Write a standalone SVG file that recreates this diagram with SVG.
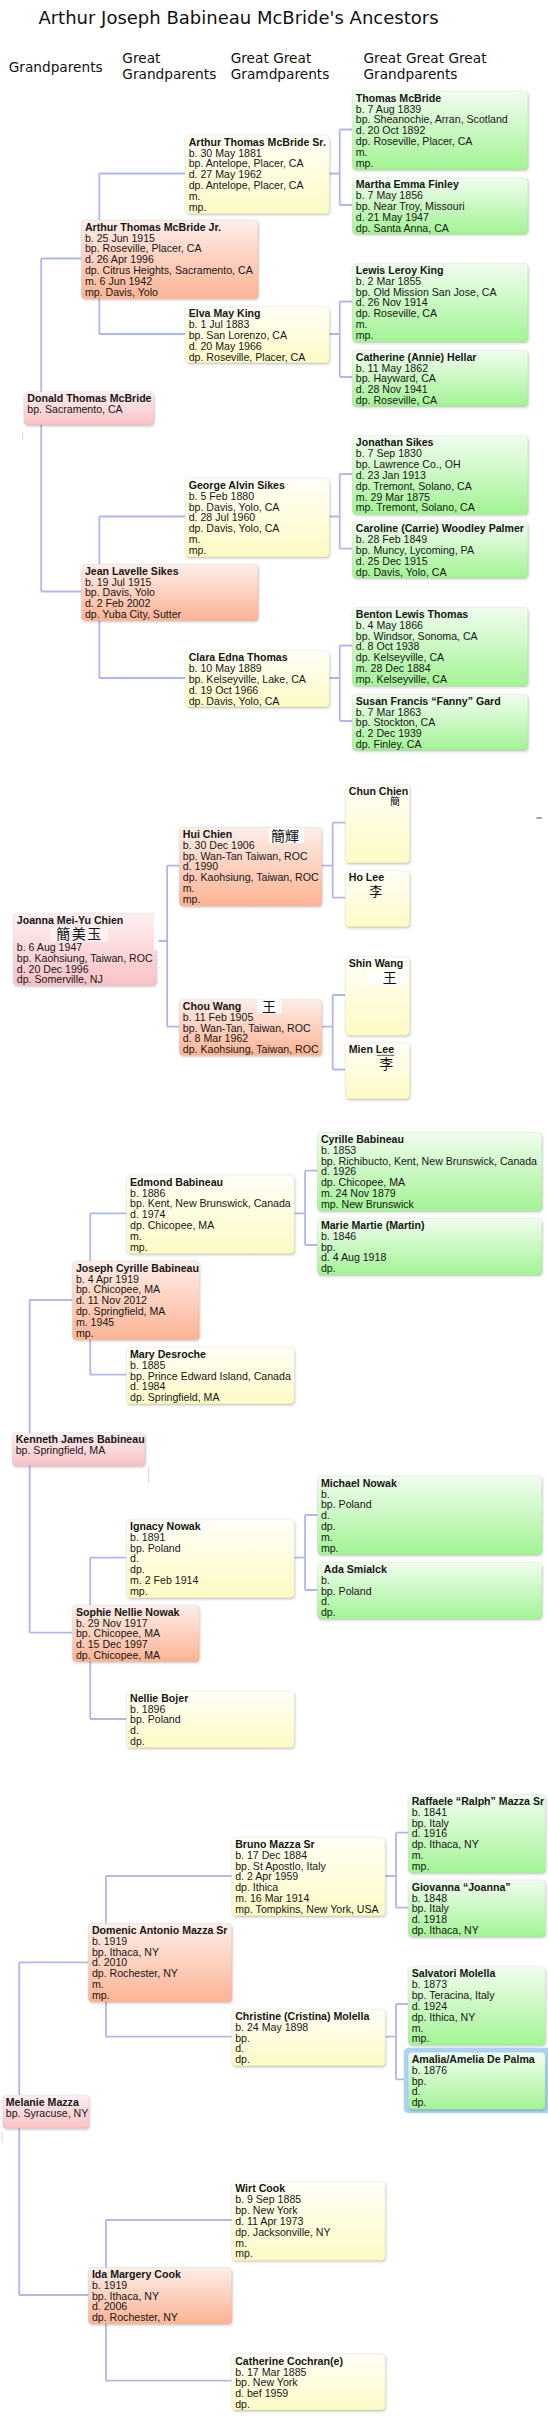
<svg xmlns="http://www.w3.org/2000/svg" width="548" height="2419" viewBox="0 0 548 2419">
<style>
.t{font-family:"Liberation Sans",Arial,sans-serif;font-size:10.6px;fill:#161616}
.n{font-weight:bold}
.h{font-family:"DejaVu Sans",Verdana,sans-serif;font-size:13.7px;fill:#111}
.title{font-family:"DejaVu Sans",Verdana,sans-serif;font-size:18px;fill:#111}
.c{stroke:#b1b6ee;stroke-width:1.8;fill:none}
.cjk{font-family:"Noto Sans CJK TC","Noto Sans CJK SC",sans-serif;fill:#111}
.b{stroke:#000;stroke-opacity:0.07;stroke-width:0.8;filter:url(#sh)}
.pk{fill:url(#gPink)}
.or{fill:url(#gOrange)}
.ye{fill:url(#gYellow)}
.gr{fill:url(#gGreen)}
.wp{fill:#fff;fill-opacity:0.9}
.art{stroke:#d8d8d8;stroke-width:1}
</style>
<defs>
<linearGradient id="gPink" x1="0" y1="0" x2="0" y2="1"><stop offset="0" stop-color="#feeff0"/><stop offset="1" stop-color="#f8c2c6"/></linearGradient>
<linearGradient id="gOrange" x1="0" y1="0" x2="0" y2="1"><stop offset="0" stop-color="#fdeee9"/><stop offset="1" stop-color="#fcb394"/></linearGradient>
<linearGradient id="gYellow" x1="0" y1="0" x2="0" y2="1"><stop offset="0" stop-color="#fffef6"/><stop offset="1" stop-color="#fdfbc5"/></linearGradient>
<linearGradient id="gGreen" x1="0" y1="0" x2="0" y2="1"><stop offset="0" stop-color="#f1fdef"/><stop offset="1" stop-color="#a3f495"/></linearGradient>
<filter id="sh" x="-5%" y="-5%" width="112%" height="125%"><feDropShadow dx="0.8" dy="1.5" stdDeviation="1.1" flood-color="#000" flood-opacity="0.22"/></filter>
</defs>
<rect x="0" y="0" width="548" height="2419" fill="#fff"/>

<g id="headers">
<text class="title" x="38.4" y="24">Arthur Joseph Babineau McBride's Ancestors</text>
<text class="h" x="8.7" y="71.7">Grandparents</text>
<text class="h" x="122.3" y="62.7">Great</text>
<text class="h" x="122.3" y="78.7">Grandparents</text>
<text class="h" x="230.7" y="62.7">Great Great</text>
<text class="h" x="230.7" y="78.7">Gramdparents</text>
<text class="h" x="363.5" y="62.7">Great Great Great</text>
<text class="h" x="363.5" y="78.7">Grandparents</text>
</g>

<g id="connectors">
<path class="c" d="M41.2 258.5V591.5M41.2 258.5H81.4M41.2 591.5H81.4"/>
<path class="c" d="M99.3 173.5V334M99.3 173.5H185.2M99.3 334H185.2"/>
<path class="c" d="M99.3 516.5V678M99.3 516.5H185.2M99.3 678H185.2"/>
<path class="c" d="M329.3 173.5H339.7M339.7 129.5V205M339.7 129.5H352.3M339.7 205H352.3"/>
<path class="c" d="M329.3 334H339.7M339.7 301.5V377M339.7 301.5H352.3M339.7 377H352.3"/>
<path class="c" d="M329.3 516.5H339.7M339.7 474V548.7M339.7 474H352.3M339.7 548.7H352.3"/>
<path class="c" d="M329.3 678H339.7M339.7 645.5V721M339.7 645.5H352.3M339.7 721H352.3"/>

<path class="c" d="M156.2 941H167.1M167.1 865.7V1026.7M167.1 865.7H179.3M167.1 1026.7H179.3"/>
<path class="c" d="M321.6 865.7H332.7M332.7 822.7V897.7M332.7 822.7H345.3M332.7 897.7H345.3"/>
<path class="c" d="M321.6 1026.7H332.7M332.7 995V1069.5M332.7 995H345.3M332.7 1069.5H345.3"/>

<path class="c" d="M29.7 1300V1632.7M29.7 1300H72.4M29.7 1632.7H72.4"/>
<path class="c" d="M90.2 1213.3V1374.7M90.2 1213.3H126.5M90.2 1374.7H126.5"/>
<path class="c" d="M90.2 1557.7V1719M90.2 1557.7H126.5M90.2 1719H126.5"/>
<path class="c" d="M294.3 1213.3H305.1M305.1 1170.7V1245M305.1 1170.7H317.4M305.1 1245H317.4"/>
<path class="c" d="M294.3 1557.7H305.1M305.1 1515V1590M305.1 1515H317.4M305.1 1590H317.4"/>

<path class="c" d="M19.2 1962.3V2295M19.2 1962.3H88.4M19.2 2295H88.4"/>
<path class="c" d="M105.9 1876V2036.7M105.9 1876H231.7M105.9 2036.7H231.7"/>
<path class="c" d="M105.9 2220V2380.7M105.9 2220H231.7M105.9 2380.7H231.7"/>
<path class="c" d="M385.2 1876H396M396 1832.7V1907.7M396 1832.7H408.2M396 1907.7H408.2"/>
<path class="c" d="M385.2 2036.7H396M396 2004V2079.3M396 2004H408.2M396 2079.3H408.2"/>
</g>

<g id="marks">
<line x1="536.5" y1="818" x2="541.8" y2="818" stroke="#444" stroke-width="1"/>
<line class="art" x1="22.7" y1="432" x2="22.7" y2="440"/>
<line class="art" x1="148.5" y1="1467" x2="148.5" y2="1482"/>
<line class="art" x1="2" y1="2132" x2="2" y2="2143"/>
</g>

<!-- Section 1 -->
<g id="n-donald"><rect class="b pk" x="23.8" y="391.7" width="130" height="33" rx="4"/><text class="t" x="27.3" y="402.4"><tspan class="n">Donald Thomas McBride</tspan><tspan x="27.3" dy="10.83">bp. Sacramento, CA</tspan></text></g>
<g id="n-arthur-jr"><rect class="b or" x="81.4" y="220" width="176.6" height="78.5" rx="4"/><text class="t" x="84.9" y="230.7"><tspan class="n">Arthur Thomas McBride Jr.</tspan><tspan x="84.9" dy="10.83">b. 25 Jun 1915</tspan><tspan x="84.9" dy="10.83">bp. Roseville, Placer, CA</tspan><tspan x="84.9" dy="10.83">d. 26 Apr 1996</tspan><tspan x="84.9" dy="10.83">dp. Citrus Heights, Sacramento, CA</tspan><tspan x="84.9" dy="10.83">m. 6 Jun 1942</tspan><tspan x="84.9" dy="10.83">mp. Davis, Yolo</tspan></text></g>
<g id="n-jean"><rect class="b or" x="81.4" y="564" width="176.6" height="56.5" rx="4"/><text class="t" x="84.9" y="574.7"><tspan class="n">Jean Lavelle Sikes</tspan><tspan x="84.9" dy="10.83">b. 19 Jul 1915</tspan><tspan x="84.9" dy="10.83">bp. Davis, Yolo</tspan><tspan x="84.9" dy="10.83">d. 2 Feb 2002</tspan><tspan x="84.9" dy="10.83">dp. Yuba City, Sutter</tspan></text></g>
<g id="n-arthur-sr"><rect class="b ye" x="185.2" y="135" width="144.1" height="78.5" rx="4"/><text class="t" x="188.7" y="145.7"><tspan class="n">Arthur Thomas McBride Sr.</tspan><tspan x="188.7" dy="10.83">b. 30 May 1881</tspan><tspan x="188.7" dy="10.83">bp. Antelope, Placer, CA</tspan><tspan x="188.7" dy="10.83">d. 27 May 1962</tspan><tspan x="188.7" dy="10.83">dp. Antelope, Placer, CA</tspan><tspan x="188.7" dy="10.83">m.</tspan><tspan x="188.7" dy="10.83">mp.</tspan></text></g>
<g id="n-elva"><rect class="b ye" x="185.2" y="306.7" width="144.1" height="56" rx="4"/><text class="t" x="188.7" y="317.4"><tspan class="n">Elva May King</tspan><tspan x="188.7" dy="10.83">b. 1 Jul 1883</tspan><tspan x="188.7" dy="10.83">bp. San Lorenzo, CA</tspan><tspan x="188.7" dy="10.83">d. 20 May 1966</tspan><tspan x="188.7" dy="10.83">dp. Roseville, Placer, CA</tspan></text></g>
<g id="n-george"><rect class="b ye" x="185.2" y="478.3" width="144.1" height="78.5" rx="4"/><text class="t" x="188.7" y="489"><tspan class="n">George Alvin Sikes</tspan><tspan x="188.7" dy="10.83">b. 5 Feb 1880</tspan><tspan x="188.7" dy="10.83">bp. Davis, Yolo, CA</tspan><tspan x="188.7" dy="10.83">d. 28 Jul 1960</tspan><tspan x="188.7" dy="10.83">dp. Davis, Yolo, CA</tspan><tspan x="188.7" dy="10.83">m.</tspan><tspan x="188.7" dy="10.83">mp.</tspan></text></g>
<g id="n-clara"><rect class="b ye" x="185.2" y="650.7" width="144.1" height="56" rx="4"/><text class="t" x="188.7" y="661.4"><tspan class="n">Clara Edna Thomas</tspan><tspan x="188.7" dy="10.83">b. 10 May 1889</tspan><tspan x="188.7" dy="10.83">bp. Kelseyville, Lake, CA</tspan><tspan x="188.7" dy="10.83">d. 19 Oct 1966</tspan><tspan x="188.7" dy="10.83">dp. Davis, Yolo, CA</tspan></text></g>
<g id="n-thomas"><rect class="b gr" x="352.3" y="91" width="175.5" height="78.5" rx="4"/><text class="t" x="355.8" y="101.7"><tspan class="n">Thomas McBride</tspan><tspan x="355.8" dy="10.83">b. 7 Aug 1839</tspan><tspan x="355.8" dy="10.83">bp. Sheanochie, Arran, Scotland</tspan><tspan x="355.8" dy="10.83">d. 20 Oct 1892</tspan><tspan x="355.8" dy="10.83">dp. Roseville, Placer, CA</tspan><tspan x="355.8" dy="10.83">m.</tspan><tspan x="355.8" dy="10.83">mp.</tspan></text></g>
<g id="n-martha"><rect class="b gr" x="352.3" y="177.7" width="175.5" height="56" rx="4"/><text class="t" x="355.8" y="188.4"><tspan class="n">Martha Emma Finley</tspan><tspan x="355.8" dy="10.83">b. 7 May 1856</tspan><tspan x="355.8" dy="10.83">bp. Near Troy, Missouri</tspan><tspan x="355.8" dy="10.83">d. 21 May 1947</tspan><tspan x="355.8" dy="10.83">dp. Santa Anna, CA</tspan></text></g>
<g id="n-lewis"><rect class="b gr" x="352.3" y="263.3" width="175.5" height="78.5" rx="4"/><text class="t" x="355.8" y="274"><tspan class="n">Lewis Leroy King</tspan><tspan x="355.8" dy="10.83">b. 2 Mar 1855</tspan><tspan x="355.8" dy="10.83">bp. Old Mission San Jose, CA</tspan><tspan x="355.8" dy="10.83">d. 26 Nov 1914</tspan><tspan x="355.8" dy="10.83">dp. Roseville, CA</tspan><tspan x="355.8" dy="10.83">m.</tspan><tspan x="355.8" dy="10.83">mp.</tspan></text></g>
<g id="n-catherine-hellar"><rect class="b gr" x="352.3" y="350" width="175.5" height="56" rx="4"/><text class="t" x="355.8" y="360.7"><tspan class="n">Catherine (Annie) Hellar</tspan><tspan x="355.8" dy="10.83">b. 11 May 1862</tspan><tspan x="355.8" dy="10.83">bp. Hayward, CA</tspan><tspan x="355.8" dy="10.83">d. 28 Nov 1941</tspan><tspan x="355.8" dy="10.83">dp. Roseville, CA</tspan></text></g>
<g id="n-jonathan"><rect class="b gr" x="352.3" y="435.7" width="175.5" height="78.5" rx="4"/><text class="t" x="355.8" y="446.4"><tspan class="n">Jonathan Sikes</tspan><tspan x="355.8" dy="10.83">b. 7 Sep 1830</tspan><tspan x="355.8" dy="10.83">bp. Lawrence Co., OH</tspan><tspan x="355.8" dy="10.83">d. 23 Jan 1913</tspan><tspan x="355.8" dy="10.83">dp. Tremont, Solano, CA</tspan><tspan x="355.8" dy="10.83">m. 29 Mar 1875</tspan><tspan x="355.8" dy="10.83">mp. Tremont, Solano, CA</tspan></text></g>
<g id="n-caroline"><rect class="b gr" x="352.3" y="521.7" width="175.5" height="56" rx="4"/><text class="t" x="355.8" y="532.4"><tspan class="n">Caroline (Carrie) Woodley Palmer</tspan><tspan x="355.8" dy="10.83">b. 28 Feb 1849</tspan><tspan x="355.8" dy="10.83">bp. Muncy, Lycoming, PA</tspan><tspan x="355.8" dy="10.83">d. 25 Dec 1915</tspan><tspan x="355.8" dy="10.83">dp. Davis, Yolo, CA</tspan></text></g>
<g id="n-benton"><rect class="b gr" x="352.3" y="607.3" width="175.5" height="78.5" rx="4"/><text class="t" x="355.8" y="618"><tspan class="n">Benton Lewis Thomas</tspan><tspan x="355.8" dy="10.83">b. 4 May 1866</tspan><tspan x="355.8" dy="10.83">bp. Windsor, Sonoma, CA</tspan><tspan x="355.8" dy="10.83">d. 8 Oct 1938</tspan><tspan x="355.8" dy="10.83">dp. Kelseyville, CA</tspan><tspan x="355.8" dy="10.83">m. 28 Dec 1884</tspan><tspan x="355.8" dy="10.83">mp. Kelseyville, CA</tspan></text></g>
<g id="n-susan"><rect class="b gr" x="352.3" y="694" width="175.5" height="56" rx="4"/><text class="t" x="355.8" y="704.7"><tspan class="n">Susan Francis “Fanny” Gard</tspan><tspan x="355.8" dy="10.83">b. 7 Mar 1863</tspan><tspan x="355.8" dy="10.83">bp. Stockton, CA</tspan><tspan x="355.8" dy="10.83">d. 2 Dec 1939</tspan><tspan x="355.8" dy="10.83">dp. Finley. CA</tspan></text></g>

<!-- Section 2 -->
<g id="n-joanna"><rect class="b pk" x="13.3" y="913.3" width="142.9" height="72" rx="4"/><rect class="wp" x="153.8" y="913.3" width="5" height="37"/><rect x="50" y="927" width="58" height="15" fill="#fff" fill-opacity="0.5"/><text class="t" x="16.8" y="924"><tspan class="n">Joanna Mei-Yu Chien</tspan></text><text class="cjk" x="79.5" y="939.2" font-size="14" letter-spacing="1.5" text-anchor="middle">簡美玉</text><text class="t" x="16.8" y="951"><tspan>b. 6 Aug 1947</tspan><tspan x="16.8" dy="10.75">bp. Kaohsiung, Taiwan, ROC</tspan><tspan x="16.8" dy="10.75">d. 20 Dec 1996</tspan><tspan x="16.8" dy="10.75">dp. Somerville, NJ</tspan></text></g>
<g id="n-hui"><rect class="b or" x="179.3" y="827.3" width="142.3" height="78.5" rx="4"/><rect class="wp" x="269" y="828" width="35" height="15"/><text class="cjk" x="271" y="840.5" font-size="14">簡輝</text><text class="t" x="182.8" y="838"><tspan class="n">Hui Chien</tspan><tspan x="182.8" dy="10.83">b. 30 Dec 1906</tspan><tspan x="182.8" dy="10.83">bp. Wan-Tan Taiwan, ROC</tspan><tspan x="182.8" dy="10.83">d. 1990</tspan><tspan x="182.8" dy="10.83">dp. Kaohsiung, Taiwan, ROC</tspan><tspan x="182.8" dy="10.83">m.</tspan><tspan x="182.8" dy="10.83">mp.</tspan></text></g>
<g id="n-chou"><rect class="b or" x="179.3" y="999.3" width="142.3" height="56" rx="4"/><rect class="wp" x="257" y="999.3" width="24.4" height="14"/><text class="cjk" x="262" y="1011.5" font-size="14">王</text><text class="t" x="182.8" y="1010"><tspan class="n">Chou Wang</tspan><tspan x="182.8" dy="10.83">b. 11 Feb 1905</tspan><tspan x="182.8" dy="10.83">bp. Wan-Tan, Taiwan, ROC</tspan><tspan x="182.8" dy="10.83">d. 8 Mar 1962</tspan><tspan x="182.8" dy="10.83">dp. Kaohsiung, Taiwan, ROC</tspan></text></g>
<g id="n-chun"><rect class="b ye" x="345.3" y="784.3" width="64.3" height="78.5" rx="4"/><text class="t" x="348.8" y="795"><tspan class="n">Chun Chien</tspan></text><text class="cjk" x="390" y="805" font-size="10">簡</text></g>
<g id="n-ho"><rect class="b ye" x="345.3" y="870.7" width="64.3" height="56" rx="4"/><text class="t" x="348.8" y="881.4"><tspan class="n">Ho Lee</tspan></text><text class="cjk" x="369.2" y="895.5" font-size="13">李</text></g>
<g id="n-shin"><rect class="b ye" x="345.3" y="956.7" width="64.3" height="78.5" rx="4"/><rect class="wp" x="367" y="970" width="38.5" height="15"/><text class="t" x="348.8" y="967.4"><tspan class="n">Shin Wang</tspan></text><text class="cjk" x="382.7" y="982.5" font-size="14">王</text></g>
<g id="n-mien"><rect class="b ye" x="345.3" y="1042.7" width="64.3" height="56" rx="4"/><text class="t" x="348.8" y="1053.4"><tspan class="n">Mien Lee</tspan></text><line x1="376.8" y1="1055.3" x2="394.3" y2="1055.3" stroke="#333" stroke-width="0.8"/><text class="cjk" x="379.2" y="1068.8" font-size="14">李</text></g>

<!-- Section 3 -->
<g id="n-kenneth"><rect class="b pk" x="12.2" y="1432.7" width="132.8" height="33" rx="4"/><text class="t" x="15.7" y="1443.4"><tspan class="n">Kenneth James Babineau</tspan><tspan x="15.7" dy="10.83">bp. Springfield, MA</tspan></text></g>
<g id="n-joseph"><rect class="b or" x="72.4" y="1261" width="126.8" height="78.5" rx="4"/><text class="t" x="75.9" y="1271.7"><tspan class="n">Joseph Cyrille Babineau</tspan><tspan x="75.9" dy="10.83">b. 4 Apr 1919</tspan><tspan x="75.9" dy="10.83">bp. Chicopee, MA</tspan><tspan x="75.9" dy="10.83">d. 11 Nov 2012</tspan><tspan x="75.9" dy="10.83">dp. Springfield, MA</tspan><tspan x="75.9" dy="10.83">m. 1945</tspan><tspan x="75.9" dy="10.83">mp.</tspan></text></g>
<g id="n-sophie"><rect class="b or" x="72.4" y="1605" width="126.8" height="56.5" rx="4"/><text class="t" x="75.9" y="1615.7"><tspan class="n">Sophie Nellie Nowak</tspan><tspan x="75.9" dy="10.83">b. 29 Nov 1917</tspan><tspan x="75.9" dy="10.83">bp. Chicopee, MA</tspan><tspan x="75.9" dy="10.83">d. 15 Dec 1997</tspan><tspan x="75.9" dy="10.83">dp. Chicopee, MA</tspan></text></g>
<g id="n-edmond"><rect class="b ye" x="126.5" y="1175" width="167.8" height="78.5" rx="4"/><text class="t" x="130" y="1185.7"><tspan class="n">Edmond Babineau</tspan><tspan x="130" dy="10.83">b. 1886</tspan><tspan x="130" dy="10.83">bp. Kent, New Brunswick, Canada</tspan><tspan x="130" dy="10.83">d. 1974</tspan><tspan x="130" dy="10.83">dp. Chicopee, MA</tspan><tspan x="130" dy="10.83">m.</tspan><tspan x="130" dy="10.83">mp.</tspan></text></g>
<g id="n-mary"><rect class="b ye" x="126.5" y="1347.3" width="167.8" height="56.5" rx="4"/><text class="t" x="130" y="1358"><tspan class="n">Mary Desroche</tspan><tspan x="130" dy="10.83">b. 1885</tspan><tspan x="130" dy="10.83">bp. Prince Edward Island, Canada</tspan><tspan x="130" dy="10.83">d. 1984</tspan><tspan x="130" dy="10.83">dp. Springfield, MA</tspan></text></g>
<g id="n-ignacy"><rect class="b ye" x="126.5" y="1519.3" width="167.8" height="78.5" rx="4"/><text class="t" x="130" y="1530"><tspan class="n">Ignacy Nowak</tspan><tspan x="130" dy="10.83">b. 1891</tspan><tspan x="130" dy="10.83">bp. Poland</tspan><tspan x="130" dy="10.83">d.</tspan><tspan x="130" dy="10.83">dp.</tspan><tspan x="130" dy="10.83">m. 2 Feb 1914</tspan><tspan x="130" dy="10.83">mp.</tspan></text></g>
<g id="n-nellie"><rect class="b ye" x="126.5" y="1691" width="167.8" height="56.5" rx="4"/><text class="t" x="130" y="1701.7"><tspan class="n">Nellie Bojer</tspan><tspan x="130" dy="10.83">b. 1896</tspan><tspan x="130" dy="10.83">bp. Poland</tspan><tspan x="130" dy="10.83">d.</tspan><tspan x="130" dy="10.83">dp.</tspan></text></g>
<g id="n-cyrille"><rect class="b gr" x="317.4" y="1132.3" width="224.4" height="78.5" rx="4"/><text class="t" x="320.9" y="1143"><tspan class="n">Cyrille Babineau</tspan><tspan x="320.9" dy="10.83">b. 1853</tspan><tspan x="320.9" dy="10.83">bp. Richibucto, Kent, New Brunswick, Canada</tspan><tspan x="320.9" dy="10.83">d. 1926</tspan><tspan x="320.9" dy="10.83">dp. Chicopee, MA</tspan><tspan x="320.9" dy="10.83">m. 24 Nov 1879</tspan><tspan x="320.9" dy="10.83">mp. New Brunswick</tspan></text></g>
<g id="n-marie"><rect class="b gr" x="317.4" y="1218.3" width="224.4" height="56.5" rx="4"/><text class="t" x="320.9" y="1229"><tspan class="n">Marie Martie (Martin)</tspan><tspan x="320.9" dy="10.83">b. 1846</tspan><tspan x="320.9" dy="10.83">bp.</tspan><tspan x="320.9" dy="10.83">d. 4 Aug 1918</tspan><tspan x="320.9" dy="10.83">dp.</tspan></text></g>
<g id="n-michael"><rect class="b gr" x="317.4" y="1476" width="224.4" height="78.5" rx="4"/><text class="t" x="320.9" y="1486.7"><tspan class="n">Michael Nowak</tspan><tspan x="320.9" dy="10.83">b.</tspan><tspan x="320.9" dy="10.83">bp. Poland</tspan><tspan x="320.9" dy="10.83">d.</tspan><tspan x="320.9" dy="10.83">dp.</tspan><tspan x="320.9" dy="10.83">m.</tspan><tspan x="320.9" dy="10.83">mp.</tspan></text></g>
<g id="n-ada"><rect class="b gr" x="317.4" y="1562.3" width="224.4" height="56.5" rx="4"/><text class="t" x="323.8" y="1573"><tspan class="n">Ada Smialck</tspan><tspan x="320.9" dy="10.83">b.</tspan><tspan x="320.9" dy="10.83">bp. Poland</tspan><tspan x="320.9" dy="10.83">d.</tspan><tspan x="320.9" dy="10.83">dp.</tspan></text></g>

<!-- Section 4 -->
<g id="n-melanie"><rect class="b pk" x="2.8" y="2095" width="86.3" height="33.3" rx="4"/><text class="t" x="5.8" y="2105.7"><tspan class="n">Melanie Mazza</tspan><tspan x="5.8" dy="10.83">bp. Syracuse, NY</tspan></text></g>
<g id="n-domenic"><rect class="b or" x="88.4" y="1923.3" width="143.3" height="78.5" rx="4"/><text class="t" x="91.9" y="1934"><tspan class="n">Domenic Antonio Mazza Sr</tspan><tspan x="91.9" dy="10.83">b. 1919</tspan><tspan x="91.9" dy="10.83">bp. Ithaca, NY</tspan><tspan x="91.9" dy="10.83">d. 2010</tspan><tspan x="91.9" dy="10.83">dp. Rochester, NY</tspan><tspan x="91.9" dy="10.83">m.</tspan><tspan x="91.9" dy="10.83">mp.</tspan></text></g>
<g id="n-ida"><rect class="b or" x="88.4" y="2267.3" width="143.3" height="56.5" rx="4"/><text class="t" x="91.9" y="2278"><tspan class="n">Ida Margery Cook</tspan><tspan x="91.9" dy="10.83">b. 1919</tspan><tspan x="91.9" dy="10.83">bp. Ithaca, NY</tspan><tspan x="91.9" dy="10.83">d. 2006</tspan><tspan x="91.9" dy="10.83">dp. Rochester, NY</tspan></text></g>
<g id="n-bruno"><rect class="b ye" x="231.7" y="1837.3" width="153.5" height="78.5" rx="4"/><text class="t" x="235.2" y="1848"><tspan class="n">Bruno Mazza Sr</tspan><tspan x="235.2" dy="10.83">b. 17 Dec 1884</tspan><tspan x="235.2" dy="10.83">bp. St Apostlo, Italy</tspan><tspan x="235.2" dy="10.83">d. 2 Apr 1959</tspan><tspan x="235.2" dy="10.83">dp. Ithica</tspan><tspan x="235.2" dy="10.83">m. 16 Mar 1914</tspan><tspan x="235.2" dy="10.83">mp. Tompkins, New York, USA</tspan></text></g>
<g id="n-christine"><rect class="b ye" x="231.7" y="2009.3" width="153.5" height="56.5" rx="4"/><text class="t" x="235.2" y="2020"><tspan class="n">Christine (Cristina) Molella</tspan><tspan x="235.2" dy="10.83">b. 24 May 1898</tspan><tspan x="235.2" dy="10.83">bp.</tspan><tspan x="235.2" dy="10.83">d.</tspan><tspan x="235.2" dy="10.83">dp.</tspan></text></g>
<g id="n-wirt"><rect class="b ye" x="231.7" y="2181.7" width="153.5" height="78.5" rx="4"/><text class="t" x="235.2" y="2192.4"><tspan class="n">Wirt Cook</tspan><tspan x="235.2" dy="10.83">b. 9 Sep 1885</tspan><tspan x="235.2" dy="10.83">bp. New York</tspan><tspan x="235.2" dy="10.83">d. 11 Apr 1973</tspan><tspan x="235.2" dy="10.83">dp. Jacksonville, NY</tspan><tspan x="235.2" dy="10.83">m.</tspan><tspan x="235.2" dy="10.83">mp.</tspan></text></g>
<g id="n-catherine-cochran"><rect class="b ye" x="231.7" y="2354" width="153.5" height="56" rx="4"/><text class="t" x="235.2" y="2364.7"><tspan class="n">Catherine Cochran(e)</tspan><tspan x="235.2" dy="10.83">b. 17 Mar 1885</tspan><tspan x="235.2" dy="10.83">bp. New York</tspan><tspan x="235.2" dy="10.83">d. bef 1959</tspan><tspan x="235.2" dy="10.83">dp.</tspan></text></g>
<g id="n-raffaele"><rect class="b gr" x="408.2" y="1794.3" width="137.1" height="78.5" rx="4"/><text class="t" x="411.7" y="1805"><tspan class="n">Raffaele “Ralph” Mazza Sr</tspan><tspan x="411.7" dy="10.83">b. 1841</tspan><tspan x="411.7" dy="10.83">bp. Italy</tspan><tspan x="411.7" dy="10.83">d. 1916</tspan><tspan x="411.7" dy="10.83">dp. Ithaca, NY</tspan><tspan x="411.7" dy="10.83">m.</tspan><tspan x="411.7" dy="10.83">mp.</tspan></text></g>
<g id="n-giovanna"><rect class="b gr" x="408.2" y="1880" width="137.1" height="56.5" rx="4"/><text class="t" x="411.7" y="1890.7"><tspan class="n">Giovanna “Joanna”</tspan><tspan x="411.7" dy="10.83">b. 1848</tspan><tspan x="411.7" dy="10.83">bp. Italy</tspan><tspan x="411.7" dy="10.83">d. 1918</tspan><tspan x="411.7" dy="10.83">dp. Ithaca, NY</tspan></text></g>
<g id="n-salvatori"><rect class="b gr" x="408.2" y="1966.7" width="137.1" height="78" rx="4"/><text class="t" x="411.7" y="1977.4"><tspan class="n">Salvatori Molella</tspan><tspan x="411.7" dy="10.83">b. 1873</tspan><tspan x="411.7" dy="10.83">bp. Teracina, Italy</tspan><tspan x="411.7" dy="10.83">d. 1924</tspan><tspan x="411.7" dy="10.83">dp. Ithica, NY</tspan><tspan x="411.7" dy="10.83">m.</tspan><tspan x="411.7" dy="10.83">mp.</tspan></text></g>
<g id="n-amalia"><rect x="403.7" y="2047.7" width="150" height="65.6" rx="5" fill="#acd3f7"/><rect class="b gr" x="408.2" y="2052.3" width="137.1" height="57" rx="4"/><text class="t" x="411.7" y="2063"><tspan class="n">Amalia/Amelia De Palma</tspan><tspan x="411.7" dy="10.83">b. 1876</tspan><tspan x="411.7" dy="10.83">bp.</tspan><tspan x="411.7" dy="10.83">d.</tspan><tspan x="411.7" dy="10.83">dp.</tspan></text></g>
</svg>
